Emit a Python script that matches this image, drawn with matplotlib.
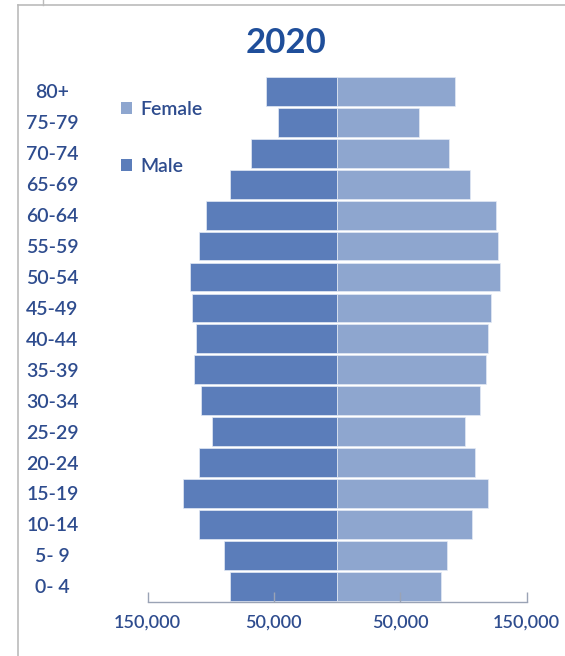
import matplotlib
matplotlib.use("Agg")
import matplotlib.pyplot as plt
from matplotlib.patches import Patch
from matplotlib.lines import Line2D

age_groups = ["0- 4", "5- 9", "10-14", "15-19", "20-24", "25-29", "30-34", "35-39",
              "40-44", "45-49", "50-54", "55-59", "60-64", "65-69", "70-74", "75-79", "80+"]
male = [84500, 89800, 109200, 122000, 109200, 99000, 107900, 113100,
        111800, 114500, 116000, 109200, 103900, 84500, 67700, 46800, 55900]
female = [82100, 87100, 106500, 119700, 109400, 101300, 113100, 118300,
          119700, 122000, 128800, 127500, 126000, 105500, 88400, 65000, 93700]
x_ticks = [-150000, -50000, 50000, 150000]
x_tick_labels = ["150,000", "50,000", "50,000", "150,000"]

male_color = "#5B7DBA"
female_color = "#8EA6CF"
text_color = "#2E4C8E"
title_color = "#1F4E9A"

plt.rcParams['font.family'] = ['Lato', 'DejaVu Sans']

W, H = 565, 656
fig = plt.figure(figsize=(W / 100, H / 100), dpi=100)
ax = fig.add_axes([147.5 / W, 1 - 601.7 / H, (526.5 - 147.5) / W, (601.7 - 76) / H])

ypos = list(range(len(age_groups)))
ax.barh(ypos, [-m for m in male], height=0.93, color=male_color,
        edgecolor="#E4EAF5", linewidth=0.5)
ax.barh(ypos, female, height=0.93, color=female_color,
        edgecolor="#E4EAF5", linewidth=0.5)

ax.set_xlim(-150000, 150000)
ax.set_ylim(-0.5, len(age_groups) - 0.5)

ax.set_yticks(ypos)
ax.set_yticklabels(age_groups)
ax.tick_params(axis='y', length=0, pad=95 * 72 / 100, labelsize=14, labelcolor=text_color)
for lbl in ax.get_yticklabels():
    lbl.set_horizontalalignment('center')
    lbl.set_fontweight('semibold')

ax.set_xticks(x_ticks)
ax.set_xticklabels(x_tick_labels)
ax.tick_params(axis='x', direction='in', length=7, width=1, color="#9AA3B5",
               labelsize=13, labelcolor=text_color, pad=9)
for lbl in ax.get_xticklabels():
    lbl.set_fontweight('semibold')

for s in ['top', 'right', 'left']:
    ax.spines[s].set_visible(False)
ax.spines['bottom'].set_color("#9AA3B5")
ax.spines['bottom'].set_linewidth(1)

fig.text(286 / W, 1 - 43 / H, "2020", ha='center', va='center', fontsize=25,
         fontweight='bold', color=title_color)

handles = [Patch(facecolor=female_color, edgecolor='none', label="Female"),
           Patch(facecolor=male_color, edgecolor='none', label="Male")]
leg = fig.legend(handles=handles, loc='upper left', bbox_to_anchor=(121 / W, 1 - 101 / H),
                 frameon=False, handlelength=0.55, handleheight=0.55,
                 handletextpad=0.45, labelspacing=2.05, borderpad=0, borderaxespad=0,
                 prop={'size': 14, 'weight': 'semibold'})
for t in leg.get_texts():
    t.set_color(text_color)

# frame lines
fig.add_artist(Line2D([18 / W, 1], [1 - 5 / H, 1 - 5 / H], color="#BBBBBB", lw=1.2))
fig.add_artist(Line2D([18 / W, 18 / W], [0, 1 - 5 / H], color="#BBBBBB", lw=1.2))
fig.add_artist(Line2D([43 / W, 43 / W], [1 - 5 / H, 1], color="#BBBBBB", lw=1.0))

fig.savefig("out.png", dpi=100)
